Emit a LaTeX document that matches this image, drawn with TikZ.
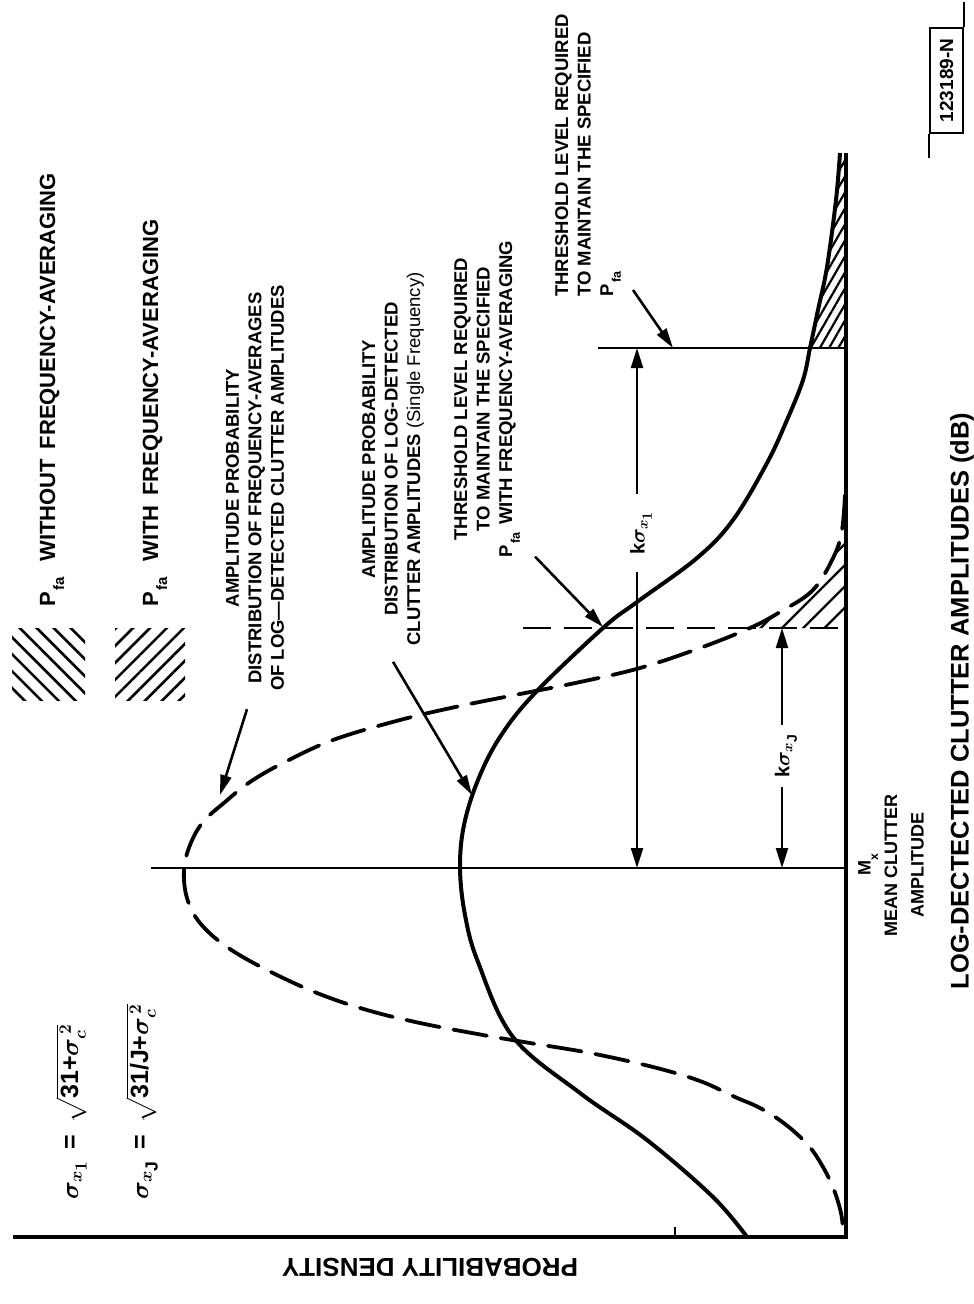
\documentclass[tikz,border=0pt]{standalone}
\usepackage{fontspec}
\setmainfont{Liberation Sans}
\usepackage{amsmath}
\usepackage{graphicx}
\usetikzlibrary{arrows.meta,patterns.meta}
\newcommand\lowsub[1]{\raisebox{-0.42em}{\scalebox{0.68}{#1}}}
\newcommand\Pfa{P\kern0.08em\lowsub{fa}}
\begin{document}
\begin{tikzpicture}[x=1pt,y=-1pt,
  lbl/.style={font=\fontsize{18.5}{22.5}\selectfont\bfseries, rotate=90, align=center, inner sep=0pt},
  leg/.style={font=\fontsize{22}{26}\selectfont\bfseries, rotate=90, inner sep=0pt, anchor=base west},
  frm/.style={font=\fontsize{25}{30}\selectfont\bfseries\boldmath, rotate=90, inner sep=0pt, anchor=base west},
  klab/.style={font=\fontsize{20}{24}\selectfont\bfseries\boldmath, rotate=90, inner ysep=1pt},
  solidc/.style={line width=4pt, line join=round},
  dashc/.style={line width=3.8pt, dash pattern=on 34pt off 14pt, line cap=round},
  axisline/.style={line width=3.8pt},
  thinline/.style={line width=2.5pt},
  dthresh/.style={line width=2.6pt, dash pattern=on 28pt off 13pt},
  arr/.style={line width=2.6pt, -{Triangle[length=20pt,width=11pt]}},
  karr/.style={line width=2.3pt, -{Triangle[length=20pt,width=12pt]}},
  hatchA/.style={pattern={Lines[angle=-45,distance=12pt,line width=2.6pt]}},
  hatchB/.style={pattern={Lines[angle=45,distance=12pt,line width=2.6pt]}},
  hatchT/.style={pattern={Lines[angle=60,distance=8pt,line width=2.2pt]}},
  hatchD/.style={pattern={Lines[angle=45,distance=15pt,line width=2.3pt]}}
]
\useasboundingbox (0,0) rectangle (974,1304);
\fill[white] (0,0) rectangle (974,1304);

% hatched tails
\path[hatchT] plot[smooth,tension=0.6] coordinates {(840,153) (836,200) (827,267) (818,310) (810,348)} -- (846,348) -- (846,153) -- cycle;
\path[hatchD] plot[smooth,tension=0.6] coordinates {(845,495) (842,530) (834,556) (813,590) (780,612) (750,628)} -- (846,628) -- (846,495) -- cycle;

% axes
\coordinate (O) at (846,1237);
\coordinate (Atop) at (846,153);
\coordinate (Aleft) at (13,1237);
\draw[axisline] (Aleft) -- (O) -- (Atop);
\coordinate (tk) at (675,1237);
\draw[thinline] (tk) -- ++(0,-10);

% mean and thresholds
\coordinate (mL) at (151,868);
\coordinate (mR) at (846,868);
\draw[thinline] (mL) -- (mR);
\coordinate (dL) at (523,628);
\coordinate (dR) at (846,628);
\draw[dthresh] (dL) -- (dR);
\coordinate (sL) at (598,348);
\coordinate (sR) at (846,348);
\draw[thinline] (sL) -- (sR);

% curves
\draw[solidc] plot[smooth,tension=0.6] coordinates {(840,153) (836,200) (827,267) (818,310) (810,348) (803,380) (787,420) (767,463) (733,520) (697,558) (637,602) (603,628) (535,693) (500,737) (478,780) (464,825) (460,868) (465,915) (478,962) (513,1037) (580,1093) (647,1140) (713,1197) (747,1237)};
\draw[dashc] plot[smooth,tension=0.6] coordinates {(845,495) (842,530) (834,556) (813,590) (780,612) (750,628) (700,648) (640,668) (580,682) (520,694) (460,706) (400,720) (333,740) (283,763) (250,782) (225,802) (203,822) (190,845) (184,870) (187,898) (200,923) (227,947) (267,970) (317,993) (367,1010) (420,1023) (483,1035) (530,1043) (590,1053) (653,1067) (700,1081) (735,1097) (760,1108) (785,1124) (808,1145) (823,1167) (834,1190) (841,1213) (843,1230)};

% k sigma dimension arrows
\coordinate (t1) at (637,348);
\coordinate (m1) at (637,868);
\node[klab, inner xsep=17pt] (k1) at (641,533) {k$\sigma_{x_{\scriptstyle 1}}$};
\draw[karr] (t1 |- k1.east) -- (t1);
\draw[karr] (m1 |- k1.west) -- (m1);
\coordinate (tJ) at (782,628);
\coordinate (mJ) at (782,868);
\node[klab, inner xsep=9pt] (kJ) at (786,756) {k$\sigma_{x_{\scriptstyle\text{J}}}$};
\draw[karr] (tJ |- kJ.east) -- (tJ);
\draw[karr] (mJ |- kJ.west) -- (mJ);

% legend
\node[leg] (l1) at (55,607) {\Pfa\hspace{0.7em}WITHOUT\hspace{0.45em}FREQUENCY-AVERAGING};
\node[leg] (l2) at (158,607) {\Pfa\hspace{0.7em}WITH\hspace{0.45em}FREQUENCY-AVERAGING};
\node[hatchA, minimum width=73pt, minimum height=72pt, inner sep=0pt] (h1) at (48.5,664) {};
\node[hatchB, minimum width=70pt, minimum height=72pt, inner sep=0pt] (h2) at (150,664) {};

% formulas
\node[frm] (f1) at (78,1200) {$\sigma_{x_{\scriptstyle 1}}$\hspace{0.45em}=\hspace{0.45em}$\sqrt{\mbox{31+}\sigma_c^{\,2}}$};
\node[frm] (f2) at (148,1200) {$\sigma_{x_{\scriptstyle\text{J}}}$\hspace{0.45em}=\hspace{0.45em}$\sqrt{\mbox{31/J+}\sigma_c^{\,2}}$};

% annotations
\node[lbl] (a1) at (255,488) {AMPLITUDE PROBABILITY\\DISTRIBUTION OF FREQUENCY-AVERAGES\\OF LOG—DETECTED CLUTTER AMPLITUDES};
\coordinate (c1) at (220,795);
\draw[arr] ([xshift=-8pt,yshift=-18pt]a1.west) -- (c1);

\node[lbl] (a2) at (393,459) {AMPLITUDE PROBABILITY\\DISTRIBUTION OF LOG-DETECTED\\CLUTTER AMPLITUDES {\mdseries(Single Frequency)}};
\coordinate (c2) at (472,795);
\draw[arr] ([yshift=-16pt]a2.west) -- (c2);

\node[lbl] (a3) at (487,399) {THRESHOLD LEVEL REQUIRED\\TO MAINTAIN THE SPECIFIED\\\Pfa\hspace{0.4em}WITH FREQUENCY-AVERAGING};
\coordinate (c3) at (603,627);
\draw[arr] ([xshift=48pt,yshift=1pt]a3.west) -- (c3);

\node[lbl, align=left, anchor=west] (a4) at (588,297) {THRESHOLD LEVEL REQUIRED\\TO MAINTAIN THE SPECIFIED\\\Pfa};
\coordinate (c4) at (673,348);
\draw[arr] ([xshift=45pt,yshift=7pt]a4.west) -- (c4);

% mean label
\node[lbl, font=\fontsize{18}{26.5}\selectfont\bfseries] (mx) at (891,865) {M\lowsub{x}\\MEAN CLUTTER\\AMPLITUDE};

% axis titles
\node[lbl, font=\fontsize{25.5}{30}\selectfont\bfseries] (xt) at (962,701) {LOG-DECTECTED CLUTTER AMPLITUDES (dB)};
\node[inner sep=0pt, rotate=180, font=\fontsize{26}{30}\selectfont\bfseries] (yt) at (430,1267) {PROBABILITY DENSITY};

% tag
\node[draw, line width=2pt, rotate=90, minimum width=105pt, minimum height=33pt, inner sep=0pt, font=\fontsize{19}{22}\selectfont\bfseries] (tag) at (946.5,80.5) {123189-N};
\draw[thinline] (tag.south east) -- ++(0,-25);
\draw[thinline] (tag.north west) -- ++(0,24);
\end{tikzpicture}
\end{document}
